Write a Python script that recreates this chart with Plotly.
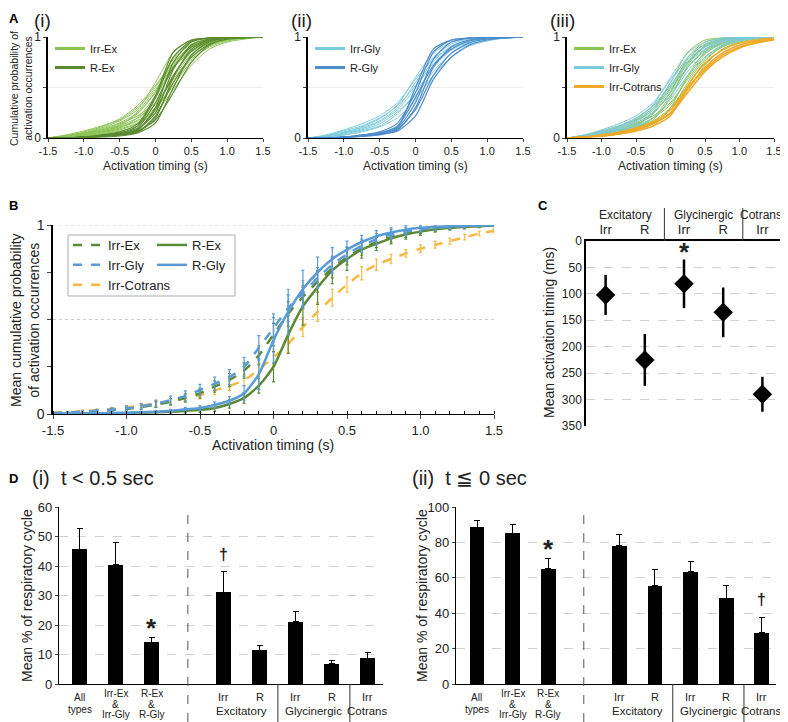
import plotly.graph_objects as go

# The page body adds an 8px margin, so the figure is sized to fill the rest of the 788x722 window.
OFF = 8
W, H = 788 - OFF, 722 - OFF
FONT = "Arial, 'Liberation Sans', Helvetica, sans-serif"


def px(x):
    return (x - OFF) / W


def py(y):
    return 1 - (y - OFF) / H


# ---------------- Panel A data (individual cumulative curves) ----------------
a_time = [-1.5, -1.25, -1.0, -0.75, -0.5, -0.25, 0.0, 0.25, 0.5, 0.75, 1.0, 1.25, 1.5]

irr_ex_curves = [
    [0, 0.02, 0.05, 0.09, 0.15, 0.25, 0.45, 0.80, 0.95, 0.99, 1, 1, 1],
    [0, 0.01, 0.03, 0.06, 0.10, 0.18, 0.40, 0.72, 0.92, 0.98, 0.995, 1, 1],
    [0, 0.03, 0.07, 0.12, 0.18, 0.30, 0.50, 0.78, 0.93, 0.98, 0.995, 1, 1],
    [0, 0.01, 0.02, 0.04, 0.07, 0.12, 0.30, 0.62, 0.85, 0.95, 0.98, 0.995, 1],
    [0, 0.02, 0.04, 0.08, 0.14, 0.22, 0.35, 0.58, 0.80, 0.92, 0.97, 0.99, 1],
    [0, 0.01, 0.03, 0.05, 0.09, 0.15, 0.28, 0.55, 0.78, 0.90, 0.96, 0.99, 1],
    [0, 0.02, 0.05, 0.10, 0.17, 0.28, 0.55, 0.85, 0.97, 0.99, 1, 1, 1],
    [0, 0.01, 0.02, 0.04, 0.08, 0.14, 0.25, 0.48, 0.72, 0.88, 0.95, 0.98, 1],
    [0, 0.02, 0.06, 0.11, 0.19, 0.32, 0.52, 0.75, 0.90, 0.97, 0.99, 1, 1],
    [0, 0.01, 0.02, 0.05, 0.10, 0.20, 0.42, 0.70, 0.88, 0.96, 0.99, 1, 1],
    [0, 0.01, 0.04, 0.07, 0.12, 0.20, 0.33, 0.60, 0.83, 0.94, 0.98, 0.99, 1],
    [0, 0.02, 0.05, 0.08, 0.13, 0.24, 0.46, 0.74, 0.91, 0.97, 0.99, 1, 1],
    [0, 0.01, 0.03, 0.06, 0.11, 0.17, 0.30, 0.52, 0.76, 0.91, 0.97, 0.99, 1],
    [0, 0.02, 0.04, 0.07, 0.12, 0.26, 0.48, 0.70, 0.86, 0.94, 0.98, 0.995, 1],
]
r_ex_curves = [
    [0, 0, 0.01, 0.02, 0.04, 0.08, 0.30, 0.75, 0.95, 0.99, 1, 1, 1],
    [0, 0, 0.01, 0.02, 0.03, 0.06, 0.20, 0.60, 0.88, 0.97, 0.99, 1, 1],
    [0, 0, 0.01, 0.03, 0.05, 0.12, 0.40, 0.80, 0.96, 0.99, 1, 1, 1],
    [0, 0, 0.005, 0.01, 0.02, 0.05, 0.15, 0.50, 0.82, 0.95, 0.99, 1, 1],
    [0, 0, 0.01, 0.02, 0.04, 0.09, 0.25, 0.68, 0.92, 0.98, 0.995, 1, 1],
    [0, 0, 0.01, 0.02, 0.03, 0.07, 0.18, 0.45, 0.75, 0.92, 0.98, 0.99, 1],
    [0, 0, 0.01, 0.02, 0.05, 0.10, 0.35, 0.70, 0.90, 0.97, 0.99, 1, 1],
    [0, 0, 0.005, 0.015, 0.03, 0.06, 0.22, 0.55, 0.80, 0.93, 0.98, 0.995, 1],
    [0, 0, 0.01, 0.03, 0.06, 0.14, 0.42, 0.85, 0.97, 0.99, 1, 1, 1],
    [0, 0, 0.01, 0.02, 0.04, 0.08, 0.28, 0.62, 0.86, 0.96, 0.99, 1, 1],
]
irr_gly_curves = [
    [0, 0.02, 0.06, 0.10, 0.17, 0.30, 0.55, 0.80, 0.93, 0.98, 0.99, 1, 1],
    [0, 0.03, 0.08, 0.14, 0.22, 0.35, 0.58, 0.78, 0.90, 0.96, 0.99, 1, 1],
    [0, 0.01, 0.03, 0.07, 0.12, 0.24, 0.45, 0.70, 0.87, 0.95, 0.98, 0.99, 1],
    [0, 0.02, 0.05, 0.09, 0.16, 0.28, 0.50, 0.74, 0.88, 0.95, 0.98, 0.995, 1],
    [0, 0.01, 0.04, 0.08, 0.14, 0.26, 0.42, 0.66, 0.84, 0.93, 0.97, 0.99, 1],
    [0, 0.02, 0.05, 0.11, 0.19, 0.33, 0.60, 0.84, 0.95, 0.99, 1, 1, 1],
    [0, 0.01, 0.03, 0.06, 0.11, 0.20, 0.38, 0.62, 0.80, 0.91, 0.96, 0.99, 1],
    [0, 0.02, 0.07, 0.12, 0.20, 0.32, 0.52, 0.76, 0.91, 0.97, 0.99, 1, 1],
]
r_gly_curves = [
    [0, 0, 0.01, 0.02, 0.04, 0.10, 0.35, 0.78, 0.95, 0.99, 1, 1, 1],
    [0, 0, 0.01, 0.03, 0.06, 0.15, 0.45, 0.85, 0.97, 0.99, 1, 1, 1],
    [0, 0, 0.01, 0.02, 0.04, 0.09, 0.28, 0.62, 0.84, 0.94, 0.98, 0.99, 1],
    [0, 0, 0.005, 0.015, 0.03, 0.08, 0.30, 0.70, 0.90, 0.97, 0.99, 1, 1],
    [0, 0, 0.01, 0.03, 0.05, 0.12, 0.40, 0.72, 0.88, 0.96, 0.99, 1, 1],
    [0, 0, 0.01, 0.02, 0.04, 0.07, 0.22, 0.58, 0.80, 0.92, 0.97, 0.99, 1],
    [0, 0, 0.01, 0.02, 0.05, 0.11, 0.50, 0.88, 0.97, 0.99, 1, 1, 1],
]
irr_cot_curves = [
    [0, 0.01, 0.02, 0.04, 0.08, 0.14, 0.25, 0.48, 0.70, 0.84, 0.92, 0.96, 0.98],
    [0, 0.01, 0.03, 0.05, 0.09, 0.15, 0.24, 0.45, 0.66, 0.80, 0.89, 0.94, 0.97],
    [0, 0.01, 0.02, 0.04, 0.07, 0.12, 0.22, 0.52, 0.74, 0.87, 0.94, 0.97, 0.99],
    [0, 0.01, 0.03, 0.06, 0.10, 0.16, 0.28, 0.50, 0.68, 0.82, 0.90, 0.95, 0.98],
]

# ---------------- Panel B data (mean curves with SEM) ----------------
b_time = [-1.5, -1.4, -1.3, -1.2, -1.1, -1.0, -0.9, -0.8, -0.7, -0.6, -0.5,
          -0.4, -0.3, -0.2, -0.1, 0.0, 0.1, 0.2, 0.3, 0.4, 0.5,
          0.6, 0.7, 0.8, 0.9, 1.0, 1.1, 1.2, 1.3, 1.4, 1.5]
b_irr_ex = [0.004, 0.007, 0.01, 0.014, 0.02, 0.027, 0.036, 0.05, 0.065, 0.085, 0.11,
            0.145, 0.18, 0.23, 0.31, 0.42, 0.53, 0.62, 0.70, 0.77, 0.83,
            0.875, 0.91, 0.935, 0.955, 0.97, 0.98, 0.987, 0.992, 0.995, 0.997]
b_irr_ex_err = [0.003, 0.004, 0.005, 0.006, 0.008, 0.01, 0.012, 0.015, 0.018, 0.022, 0.026,
                0.03, 0.035, 0.04, 0.05, 0.06, 0.065, 0.06, 0.055, 0.05, 0.04,
                0.035, 0.03, 0.025, 0.02, 0.016, 0.012, 0.01, 0.008, 0.006, 0.004]
b_irr_gly = [0.005, 0.008, 0.012, 0.017, 0.023, 0.03, 0.04, 0.055, 0.073, 0.096, 0.127,
             0.16, 0.195, 0.25, 0.35, 0.455, 0.56, 0.64, 0.72, 0.79, 0.845,
             0.89, 0.925, 0.95, 0.965, 0.977, 0.985, 0.99, 0.994, 0.997, 0.998]
b_irr_gly_err = [0.004, 0.005, 0.006, 0.008, 0.01, 0.012, 0.015, 0.018, 0.022, 0.026, 0.03,
                 0.035, 0.04, 0.05, 0.065, 0.075, 0.07, 0.065, 0.055, 0.045, 0.04,
                 0.035, 0.03, 0.025, 0.02, 0.015, 0.012, 0.01, 0.008, 0.006, 0.004]
b_irr_cot = [0.005, 0.01, 0.015, 0.02, 0.027, 0.035, 0.045, 0.055, 0.065, 0.085, 0.10,
             0.125, 0.148, 0.18, 0.235, 0.30, 0.37, 0.46, 0.54, 0.615, 0.685,
             0.745, 0.79, 0.82, 0.85, 0.875, 0.895, 0.915, 0.935, 0.955, 0.97]
b_irr_cot_err = [0.003, 0.004, 0.005, 0.006, 0.008, 0.01, 0.012, 0.014, 0.016, 0.018, 0.02,
                 0.022, 0.025, 0.03, 0.035, 0.04, 0.045, 0.05, 0.05, 0.045, 0.04,
                 0.035, 0.03, 0.025, 0.02, 0.02, 0.018, 0.016, 0.014, 0.012, 0.01]
b_r_ex = [0.001, 0.001, 0.002, 0.003, 0.004, 0.005, 0.007, 0.009, 0.012, 0.016, 0.022,
          0.032, 0.053, 0.085, 0.15, 0.25, 0.42, 0.57, 0.67, 0.76, 0.82,
          0.87, 0.90, 0.93, 0.95, 0.965, 0.977, 0.985, 0.99, 0.994, 0.997]
b_r_ex_err = [0.001, 0.001, 0.002, 0.002, 0.003, 0.004, 0.005, 0.006, 0.008, 0.01, 0.013,
              0.018, 0.022, 0.027, 0.04, 0.08, 0.1, 0.1, 0.09, 0.07, 0.06,
              0.045, 0.035, 0.03, 0.025, 0.02, 0.015, 0.012, 0.01, 0.008, 0.006]
b_r_gly = [0.001, 0.002, 0.003, 0.004, 0.005, 0.007, 0.009, 0.012, 0.017, 0.025, 0.032,
           0.048, 0.07, 0.11, 0.21, 0.39, 0.54, 0.66, 0.75, 0.82, 0.87,
           0.91, 0.94, 0.96, 0.975, 0.985, 0.99, 0.994, 0.996, 0.998, 0.999]
b_r_gly_err = [0.001, 0.002, 0.002, 0.003, 0.003, 0.004, 0.005, 0.006, 0.008, 0.01, 0.012,
               0.016, 0.022, 0.04, 0.08, 0.12, 0.12, 0.1, 0.08, 0.06, 0.045,
               0.035, 0.03, 0.025, 0.02, 0.015, 0.012, 0.01, 0.008, 0.006, 0.004]

# ---------------- Panel C data ----------------
c_labels = ["Irr", "R", "Irr", "R", "Irr"]
c_groups = ["Excitatory", "Glycinergic", "Cotrans"]
c_mean = [102, 225, 81, 135, 290]
c_err = [38, 49, 46, 47, 33]

# ---------------- Panel D data ----------------
d_pool_labels = [["All", "types"], ["Irr-Ex", "&", "Irr-Gly"], ["R-Ex", "&", "R-Gly"]]
d_type_labels = ["Irr", "R", "Irr", "R", "Irr"]
d_groups = ["Excitatory", "Glycinergic", "Cotrans"]
d1_mean = [45.7, 40.5, 14.2, 31.1, 11.4, 21.1, 6.8, 8.7]
d1_err = [7.0, 7.5, 1.6, 7.1, 1.7, 3.5, 1.0, 2.0]
d2_mean = [88.7, 85.2, 65.0, 78.2, 55.5, 63.5, 48.5, 28.9]
d2_err = [3.4, 5.0, 5.7, 6.2, 9.2, 5.5, 7.1, 8.7]

# colours
CA_IRR_EX = "#8dc455"
CA_R_EX = "#5a8a30"
CA_IRR_GLY = "#7ccbdc"
CA_R_GLY = "#4d8ccb"
CA_COT = "#f0aa2a"
CB_EX = "#5b8a36"
CB_GLY = "#5b9bd5"
CB_COT = "#f5b842"

fig = go.Figure()


def add_curves(curves, color, width, xa, ya):
    for c in curves:
        fig.add_trace(go.Scatter(x=a_time, y=c, mode="lines", xaxis=xa, yaxis=ya,
                                 line=dict(color=color, width=width, shape="spline", smoothing=0.7),
                                 showlegend=False, hoverinfo="skip"))


def add_legend_entry(name, color, legend, xa, ya, dash="solid", width=3, rank=1):
    fig.add_trace(go.Scatter(x=[None], y=[None], mode="lines", name=name, xaxis=xa, yaxis=ya,
                             line=dict(color=color, width=width, dash=dash),
                             legend=legend, legendrank=rank, showlegend=True))


# A(i)
add_curves(irr_ex_curves, CA_IRR_EX, 1, "x", "y")
add_curves(r_ex_curves, CA_R_EX, 1.2, "x", "y")
add_legend_entry("Irr-Ex", CA_IRR_EX, "legend", "x", "y", rank=1)
add_legend_entry("R-Ex", CA_R_EX, "legend", "x", "y", rank=2)
# A(ii)
add_curves(irr_gly_curves, CA_IRR_GLY, 1, "x2", "y2")
add_curves(r_gly_curves, CA_R_GLY, 1.2, "x2", "y2")
add_legend_entry("Irr-Gly", CA_IRR_GLY, "legend2", "x2", "y2", rank=1)
add_legend_entry("R-Gly", CA_R_GLY, "legend2", "x2", "y2", rank=2)
# A(iii)
add_curves(irr_ex_curves, CA_IRR_EX, 1, "x3", "y3")
add_curves(irr_gly_curves, CA_IRR_GLY, 1, "x3", "y3")
add_curves(irr_cot_curves, CA_COT, 1.6, "x3", "y3")
add_legend_entry("Irr-Ex", CA_IRR_EX, "legend3", "x3", "y3", rank=1)
add_legend_entry("Irr-Gly", CA_IRR_GLY, "legend3", "x3", "y3", rank=2)
add_legend_entry("Irr-Cotrans", CA_COT, "legend3", "x3", "y3", rank=3)

# B
b_series = [
    ("Irr-Cotrans", b_irr_cot, b_irr_cot_err, CB_COT, "dash", "legend4", 3),
    ("Irr-Ex", b_irr_ex, b_irr_ex_err, CB_EX, "dash", "legend4", 1),
    ("R-Ex", b_r_ex, b_r_ex_err, CB_EX, "solid", "legend5", 1),
    ("Irr-Gly", b_irr_gly, b_irr_gly_err, CB_GLY, "dash", "legend4", 2),
    ("R-Gly", b_r_gly, b_r_gly_err, CB_GLY, "solid", "legend5", 2),
]
for name, ys, es, col, dash, leg, rank in b_series:
    fig.add_trace(go.Scatter(x=b_time, y=ys, mode="lines", name=name, xaxis="x4", yaxis="y4",
                             line=dict(color=col, width=2.5, dash=dash, shape="spline", smoothing=0.6),
                             error_y=dict(type="data", array=es, color=col, thickness=1.2, width=1.5),
                             legend=leg, legendrank=rank, showlegend=True))

# C
c_x = list(range(len(c_mean)))
fig.add_trace(go.Scatter(x=c_x, y=c_mean, mode="markers", xaxis="x5", yaxis="y5",
                         marker=dict(symbol="diamond", size=15, color="black"),
                         error_y=dict(type="data", array=c_err, color="black", thickness=2.5, width=0),
                         showlegend=False))

# D positions: three pooled bars, a gap, then five type bars
d_x = [i if i < 3 else i + 1 for i in range(len(d1_mean))]
fig.add_trace(go.Bar(x=d_x, y=d1_mean, xaxis="x6", yaxis="y6", width=0.42,
                     marker=dict(color="black", line=dict(width=0)),
                     error_y=dict(type="data", array=d1_err, arrayminus=[0] * len(d1_err),
                                  symmetric=False, color="black", thickness=1, width=3),
                     showlegend=False))
fig.add_trace(go.Bar(x=d_x, y=d2_mean, xaxis="x7", yaxis="y7", width=0.42,
                     marker=dict(color="black", line=dict(width=0)),
                     error_y=dict(type="data", array=d2_err, arrayminus=[0] * len(d2_err),
                                  symmetric=False, color="black", thickness=1, width=3),
                     showlegend=False))

# ---------------- Layout ----------------
tick_font = dict(family=FONT, size=11, color="#222")
a_xt = [-1.5, -1.0, -0.5, 0, 0.5, 1.0, 1.5]
a_xtt = ["-1.5", "-1.0", "-0.5", "0", "0.5", "1.0", "1.5"]


def a_xaxis(l, r, anchor):
    return dict(domain=[px(l), px(r)], range=[-1.5, 1.5], anchor=anchor, tickvals=a_xt, ticktext=a_xtt,
                showline=True, linecolor="black", linewidth=1, ticks="outside", ticklen=3,
                tickfont=tick_font, showgrid=False, zeroline=False, automargin=False,
                ticklabeloverflow="allow")


def a_yaxis(anchor):
    return dict(domain=[py(138), py(37)], range=[0, 1.0], anchor=anchor, tickvals=[0, 0.5, 1],
                ticktext=["0", "", "1"], showgrid=True, gridcolor="#eeeeee", showline=True,
                linecolor="black", linewidth=1.5, ticks="outside", ticklen=3,
                tickfont=dict(family=FONT, size=12, color="#222"), zeroline=False, automargin=False)


b_xr = [-1.5, 1.5]
c_xr = [-0.5, 4.5]
d1_xr = [-0.58, 8.42]
d2_xr = [-0.59, 8.4]

layout = dict(
    width=W, height=H, margin=dict(l=0, r=0, t=0, b=0, pad=0, autoexpand=False),
    paper_bgcolor="white", plot_bgcolor="white",
    font=dict(family=FONT, color="#222"),
    xaxis=a_xaxis(48, 263, "y"), yaxis=a_yaxis("x"),
    xaxis2=a_xaxis(308, 523, "y2"), yaxis2=a_yaxis("x2"),
    xaxis3=a_xaxis(567, 774, "y3"), yaxis3=a_yaxis("x3"),
    xaxis4=dict(domain=[px(53), px(494)], range=b_xr, anchor="y4", tickvals=a_xt, ticktext=a_xtt,
                showline=True, linecolor="black", linewidth=1.2, ticks="outside", ticklen=4,
                minor=dict(dtick=0.1, ticks="inside", ticklen=3, tickcolor="black"),
                tickfont=dict(family=FONT, size=13, color="#222"), showgrid=False, zeroline=False,
                automargin=False, ticklabeloverflow="allow"),
    yaxis4=dict(domain=[py(414), py(225)], range=[0, 1.0], anchor="x4",
                tickvals=[0, 0.25, 0.5, 0.75, 1], ticktext=["0", "", "", "", "1"],
                showline=True, linecolor="black", linewidth=1.5, ticks="outside", ticklen=4,
                tickfont=dict(family=FONT, size=14, color="#222"), showgrid=False, zeroline=False,
                automargin=False),
    xaxis5=dict(domain=[px(586), px(782)], range=c_xr, anchor="y5", side="top",
                tickvals=c_x, ticktext=c_labels, ticks="", showline=True, linecolor="black",
                linewidth=1.5, tickfont=dict(family=FONT, size=13, color="#222"), showgrid=False,
                zeroline=False, automargin=False),
    yaxis5=dict(domain=[py(426), py(241)], range=[350, 0], anchor="x5", dtick=50,
                showline=True, linecolor="black", linewidth=1.5, ticks="", showgrid=True,
                gridcolor="#d0d0d0", griddash="dash", tickfont=dict(family=FONT, size=12, color="#222"),
                zeroline=False, automargin=False),
    xaxis6=dict(domain=[px(59), px(383)], range=d1_xr, anchor="y6", showticklabels=False, ticks="",
                showline=True, linecolor="black", linewidth=1.2, showgrid=False, zeroline=False,
                automargin=False),
    yaxis6=dict(domain=[py(684), py(507)], range=[0, 60], anchor="x6", dtick=10,
                showline=True, linecolor="black", linewidth=1.2, ticks="outside", ticklen=3,
                showgrid=True, gridcolor="#d0d0d0", griddash="dash",
                tickfont=dict(family=FONT, size=13, color="#222"), zeroline=False, automargin=False),
    xaxis7=dict(domain=[px(456), px(776)], range=d2_xr, anchor="y7", showticklabels=False, ticks="",
                showline=True, linecolor="black", linewidth=1.2, showgrid=False, zeroline=False,
                automargin=False),
    yaxis7=dict(domain=[py(684), py(507)], range=[0, 100], anchor="x7", dtick=20,
                showline=True, linecolor="black", linewidth=1.2, ticks="outside", ticklen=3,
                showgrid=True, gridcolor="#d0d0d0", griddash="dash",
                tickfont=dict(family=FONT, size=13, color="#222"), zeroline=False, automargin=False),
    bargap=0,
)

leg_common = dict(bgcolor="rgba(0,0,0,0)", borderwidth=0, xanchor="left", yanchor="top",
                  tracegroupgap=0)
layout["legend"] = dict(x=px(50), y=py(34), font=dict(family=FONT, size=11, color="#222"), **leg_common)
layout["legend2"] = dict(x=px(310), y=py(34), font=dict(family=FONT, size=11, color="#222"), **leg_common)
layout["legend3"] = dict(x=px(569), y=py(34), font=dict(family=FONT, size=11, color="#222"), **leg_common)
layout["legend4"] = dict(x=px(68), y=py(230), font=dict(family=FONT, size=13, color="#222"), **leg_common)
layout["legend5"] = dict(x=px(152), y=py(230), font=dict(family=FONT, size=13, color="#222"), **leg_common)
fig.update_layout(**layout)

ann = []


def text(t, x, y, size, xanchor="center", yanchor="middle", bold=False, angle=0,
         xref="paper", yref="paper", color="#222", xshift=0):
    if bold:
        t = "<b>" + t + "</b>"
    ann.append(dict(text=t, x=x, y=y, xref=xref, yref=yref, xanchor=xanchor, yanchor=yanchor,
                    showarrow=False, textangle=angle, xshift=xshift,
                    font=dict(family=FONT, size=size, color=color)))


NB = "\u00a0"
# panel letters / titles
text("A", px(7), py(9), 13, "left", "top", bold=True, color="black")
text("(i)", px(32), py(8), 19, "left", "top")
text("(ii)", px(289), py(8), 19, "left", "top")
text("(iii)", px(548), py(8), 19, "left", "top")
text("Cumulative probability of<br>activation occurrences", px(21), py(89), 10.5, angle=-90)
for cx in (155.5, 415.5, 670.5):
    text("Activation timing (s)", px(cx), py(166), 12)

text("B", px(7), py(205), 13, "left", bold=True, color="black")
text("Mean cumulative probability<br>of activation occurrences", px(25), py(320), 14, angle=-90)
text("Activation timing (s)", px(273), py(445), 14)

text("C", px(536), py(205), 13, "left", bold=True, color="black")
text("Mean activation timing (ms)", px(549), py(333), 14, angle=-90)
c_group_x = [0.5, 2.5, 4]
for g, gx in zip(c_groups, c_group_x):
    text(g, gx, py(215), 12, xref="x5", xshift=-1 if g == "Cotrans" else 0)
text("<b>*</b>", 2, 20, 26, xref="x5", yref="y5", yanchor="middle")

text("D", px(7), py(478), 13, "left", bold=True, color="black")
text("(i)" + NB * 2 + "t &lt; 0.5 sec", px(30), py(478), 20, "left")
text("(ii)" + NB * 2 + "t \u2266 0 sec", px(410), py(478), 20, "left")
text("Mean % of respiratory cycle", px(27), py(596), 14, angle=-90)
text("Mean % of respiratory cycle", px(422), py(596), 14, angle=-90)

line_y = {2: [697, 709], 3: [693.5, 704, 714.5]}
for xa in ("x6", "x7"):
    for i, lines in enumerate(d_pool_labels):
        for ln, yy in zip(lines, line_y[len(lines)]):
            text(ln, d_x[i], py(yy), 10, xref=xa)
    for j, lab in enumerate(d_type_labels):
        text(lab, d_x[3 + j], py(697), 11, xref=xa)
    grp_x = [(d_x[3] + d_x[4]) / 2, (d_x[5] + d_x[6]) / 2, d_x[7]]
    for g, gx in zip(d_groups, grp_x):
        text(g, gx, py(711), 11.5, xref=xa)

# significance marks
text("<b>*</b>", d_x[2], 19.0, 26, xref="x6", yref="y6")
text("<b>\u2020</b>", d_x[3], 44.0, 16, xref="x6", yref="y6")
text("<b>*</b>", d_x[2], 76.0, 26, xref="x7", yref="y7")
text("<b>\u2020</b>", d_x[7], 48.0, 16, xref="x7", yref="y7")

fig.update_layout(annotations=ann)

shapes = []
# B dotted gridlines
for gy in (0.5, 1.0):
    shapes.append(dict(type="line", xref="x4 domain", yref="y4", x0=0, x1=1, y0=gy, y1=gy,
                       line=dict(color="#cccccc", width=1, dash="dot"), layer="below"))
# B legend frame
shapes.append(dict(type="rect", xref="paper", yref="paper", x0=px(68), x1=px(235), y0=py(296), y1=py(235),
                   line=dict(color="#aaaaaa", width=1)))
# C group separators
for sx in (1.5, 3.5):
    shapes.append(dict(type="line", xref="x5", yref="paper", x0=sx, x1=sx, y0=py(241), y1=py(208),
                       line=dict(color="#333", width=1)))
# D separators
for xa, ya in (("x6", "y6"), ("x7", "y7")):
    shapes.append(dict(type="line", xref=xa, yref="paper", x0=3, x1=3, y0=py(722), y1=py(507),
                       line=dict(color="#555", width=1, dash="dash")))
    for sx in ((d_x[4] + d_x[5]) / 2, (d_x[6] + d_x[7]) / 2):
        shapes.append(dict(type="line", xref=xa, yref="paper", x0=sx, x1=sx, y0=py(722), y1=py(684),
                           line=dict(color="#333", width=1)))
fig.update_layout(shapes=shapes)

fig.write_html("out.html")
